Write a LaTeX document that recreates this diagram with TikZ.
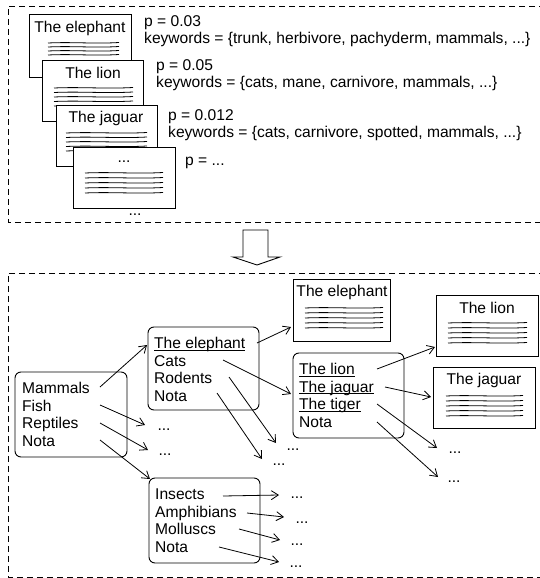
\documentclass[tikz,border=0pt]{standalone}
\usepackage{fontspec}
\setmainfont{Liberation Sans}
\usetikzlibrary{arrows.meta}
\newcommand\mydoclines[5]{%
  \foreach \k in {1,...,#4}{%
    \draw[line width=0.8pt] (#1,{#3+(\k-1)*#5}) .. controls ({#1+(#2-#1)/3},{#3+(\k-1)*#5-1.2}) and ({#1+2*(#2-#1)/3},{#3+(\k-1)*#5+1}) .. (#2,{#3+(\k-1)*#5-0.5});
  }}
\newcommand\myul[1]{\setbox0\hbox{#1}\rlap{\rule[-1.8pt]{\wd0}{0.8pt}}\box0}
\begin{document}
\begin{tikzpicture}[x=1pt,y=-1pt,
  font=\fontsize{15.6}{17.5}\selectfont,
  txt/.style={inner sep=0pt, anchor=base west},
  lbl/.style={inner sep=0pt, anchor=west},
  dots/.style={inner sep=0pt},
  doc/.style={draw, fill=white, line width=0.9pt},
  catbox/.style={draw, rounded corners=6pt, line width=0.9pt},
  arr/.style={-{Straight Barb[length=7pt,width=9pt]}, line width=0.8pt},
  frame/.style={dash pattern=on 6pt off 4pt, line width=0.8pt}]
\useasboundingbox (0,0) rectangle (540,578);

% frames
\draw[frame] (545,6) -- (8,6) -- (8,222) -- (545,222);
\draw[frame] (545,273) -- (8,273) -- (8,577) -- (545,577);

% big hollow arrow
\draw[line width=0.9pt] (243,230) -- (268,230) -- (268,257) -- (280,257) -- (257,265) -- (233,257) -- (243,257) -- cycle;

% ---------- top: stacked documents ----------
\draw[doc] (29,14) rectangle (131,77);
\node[inner sep=0pt] (t1) at (80,28) {The elephant};
\mydoclines{48}{119}{43}{4}{4}
\draw[doc] (42,60) rectangle (143,121);
\node[inner sep=0pt] (t2) at (93,73) {The lion};
\mydoclines{54}{133}{88}{5}{4.5}
\draw[doc] (56,105) rectangle (157,166);
\node[inner sep=0pt] (t3) at (106,118) {The jaguar};
\mydoclines{66}{147}{133}{5}{4.5}
\draw[doc] (73,147) rectangle (175,208);
\node[dots] (t4) at (124,162) {...};
\mydoclines{85}{163}{173}{5}{5}
\node[dots] (tmore) at (135,215) {...};

\node[lbl] (p1) at (144,23) {p = 0.03};
\node[lbl] (k1) at (144,39) {keywords = \{trunk, herbivore, pachyderm, mammals, ...\}};
\node[lbl] (p2) at (156,67) {p = 0.05};
\node[lbl] (k2) at (156,83) {keywords = \{cats, mane, carnivore, mammals, ...\}};
\node[lbl] (p3) at (168,117) {p = 0.012};
\node[lbl] (k3) at (168,133) {keywords = \{cats, carnivore, spotted, mammals, ...\}};
\node[lbl] (p4) at (185,163) {p = ...};

% ---------- bottom: hierarchy ----------
\node[catbox, minimum width=112pt, minimum height=85pt, inner sep=0pt] (root) at (71,414.5) {};
\node[txt] (mam) at (22,393.3) {Mammals};
\node[txt] (fish) at (22,411) {Fish};
\node[txt] (rep) at (22,428.5) {Reptiles};
\node[txt] (rnota) at (22,446) {Nota};

\node[catbox, minimum width=111pt, minimum height=83pt, inner sep=0pt] (b2) at (203.5,368.5) {};
\node[txt] (b2el) at (154,348.5) {\myul{The elephant}};
\node[txt] (b2cat) at (154,366) {Cats};
\node[txt] (b2rod) at (154,383.5) {Rodents};
\node[txt] (b2nota) at (154,401) {Nota};

\node[catbox, minimum width=111pt, minimum height=85pt, inner sep=0pt] (b3) at (204.5,520.5) {};
\node[txt] (ins) at (155,499.5) {Insects};
\node[txt] (amph) at (155,517) {Amphibians};
\node[txt] (moll) at (155,534.5) {Molluscs};
\node[txt] (b3nota) at (155,552) {Nota};

\node[catbox, minimum width=111pt, minimum height=85pt, inner sep=0pt] (b4) at (348.5,395.5) {};
\node[txt] (lion) at (299,374.5) {\myul{The lion}};
\node[txt] (jag) at (299,392) {\myul{The jaguar}};
\node[txt] (tig) at (299,409.5) {\myul{The tiger}};
\node[txt] (b4nota) at (299,427) {Nota};

% result documents
\node[doc, minimum width=97pt, minimum height=62pt, inner sep=0pt] (del) at (341.5,310) {};
\node[inner sep=0pt] (delt) at (342,292) {The elephant};
\mydoclines{305}{383}{308}{5}{5}
\node[doc, minimum width=102pt, minimum height=61pt, inner sep=0pt] (dli) at (487,325.5) {};
\node[inner sep=0pt] (dlit) at (487,308) {The lion};
\mydoclines{448}{527}{323}{5}{5}
\node[doc, minimum width=102pt, minimum height=61pt, inner sep=0pt] (dja) at (484,397.5) {};
\node[inner sep=0pt] (djat) at (484,380) {The jaguar};
\mydoclines{446}{523}{396}{5}{5}

% ellipsis leaves
\node[dots] (d1) at (164,430) {...};
\node[dots] (d2) at (165,455) {...};
\node[dots] (d3) at (293,450) {...};
\node[dots] (d4) at (279,465) {...};
\node[dots] (d5) at (455,453) {...};
\node[dots] (d6) at (454,482) {...};
\node[dots] (d7) at (297,498) {...};
\node[dots] (d8) at (302,523) {...};
\node[dots] (d9) at (297,545) {...};
\node[dots] (d10) at (296,567) {...};

% connector end points
\coordinate (s1) at (100,387); \coordinate (e1) at (147,345);
\coordinate (s2) at (100,405); \coordinate (e2) at (145,425);
\coordinate (s3) at (100,423); \coordinate (e3) at (148,450);
\coordinate (s4) at (100,440); \coordinate (e4) at (150,479);
\coordinate (s5) at (257,343); \coordinate (e5) at (291,327);
\coordinate (s6) at (223,360); \coordinate (e6) at (291,394);
\coordinate (s7) at (229,377); \coordinate (e7) at (276,443);
\coordinate (s8) at (217,393); \coordinate (e8) at (262,459);
\coordinate (s9) at (377,369); \coordinate (e9) at (435,347);
\coordinate (s10) at (385,387); \coordinate (e10) at (431,397);
\coordinate (s11) at (377,404); \coordinate (e11) at (437,448);
\coordinate (s12) at (377,422); \coordinate (e12) at (438,477);
\coordinate (s13) at (223,496); \coordinate (e13) at (279,495);
\coordinate (s14) at (247,513); \coordinate (e14) at (284,517);
\coordinate (s15) at (239,529); \coordinate (e15) at (280,540);
\coordinate (s16) at (219,547); \coordinate (e16) at (279,562);

\foreach \i in {1,...,16}{\draw[arr] (s\i) -- (e\i);}
\end{tikzpicture}
\end{document}
